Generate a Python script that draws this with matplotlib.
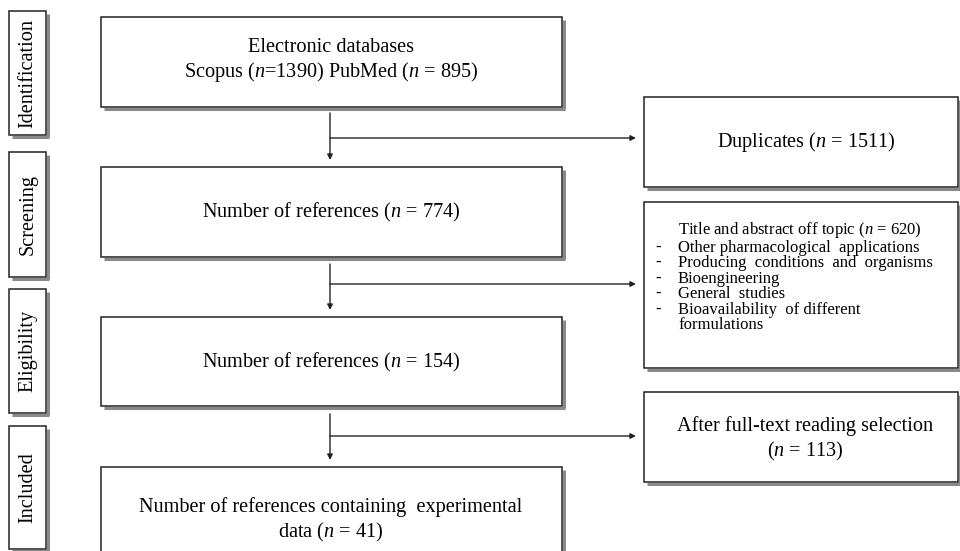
import matplotlib
matplotlib.use("Agg")
import matplotlib.pyplot as plt
from matplotlib.patches import Rectangle

plt.rcParams['font.family'] = ['Liberation Serif', 'DejaVu Serif']
plt.rcParams['mathtext.fontset'] = 'custom'
plt.rcParams['mathtext.rm'] = 'Liberation Serif'
plt.rcParams['mathtext.it'] = 'Liberation Serif:italic'

# ---- data ----
stage_labels = ["Identification", "Screening", "Eligibility", "Included"]
scopus_n = 1390
pubmed_n = 895
duplicates_n = 1511
screened_n = 774
offtopic_n = 620
offtopic_reasons = ["Other pharmacological  applications",
                    "Producing  conditions  and  organisms",
                    "Bioengineering",
                    "General  studies",
                    "Bioavailability  of different"]
offtopic_tail = "formulations"
eligible_n = 154
fulltext_excluded_n = 113
included_n = 41

W, H = 960, 551
fig = plt.figure(figsize=(W / 100, H / 100), dpi=100)
ax = fig.add_axes([0, 0, 1, 1])
ax.set_xlim(0, W)
ax.set_ylim(H, 0)
ax.axis('off')


def box(x0, y0, x1, y1):
    # shadow (right + bottom)
    ax.plot([x1 + 1.5, x1 + 1.5], [y0 + 3, y1 + 1.5], color='#8a8a8a', lw=2.2,
            solid_capstyle='butt', zorder=1)
    ax.plot([x0 + 3, x1 + 2.5], [y1 + 1.5, y1 + 1.5], color='#8a8a8a', lw=2.2,
            solid_capstyle='butt', zorder=1)
    ax.add_patch(Rectangle((x0, y0), x1 - x0, y1 - y0, facecolor='white',
                           edgecolor='#222222', lw=1.1, zorder=2))


def arrow(xs, ys, xe, ye):
    ax.annotate('', xy=(xe, ye), xytext=(xs, ys),
                arrowprops=dict(arrowstyle='-|>', color='#222222', lw=1.0,
                                mutation_scale=8, shrinkA=0, shrinkB=0), zorder=3)


# stage label boxes
stage_y = [(11, 135), (152, 277), (289, 413), (426, 549)]
for lab, (y0, y1) in zip(stage_labels, stage_y):
    box(9, y0, 46, y1)
    ax.text(28, (y0 + y1) / 2, lab, rotation=90, ha='center', va='center',
            fontsize=14.6, zorder=4)

# main column boxes
mx0, mx1 = 101, 562
main_y = [(17, 107), (167, 257), (317, 406), (467, 557)]
for (y0, y1) in main_y:
    box(mx0, y0, mx1, y1)

fs = 14.6
ax.text(331, 48, "Electronic databases", ha='center', va='center', fontsize=fs, zorder=4)
ax.text(331, 72, f"Scopus ($n$={scopus_n}) PubMed ($n$ = {pubmed_n})",
        ha='center', va='center', fontsize=fs, zorder=4)
ax.text(331, 212, f"Number of references ($n$ = {screened_n})",
        ha='center', va='center', fontsize=fs, zorder=4)
ax.text(331, 362, f"Number of references ($n$ = {eligible_n})",
        ha='center', va='center', fontsize=fs, zorder=4)
ax.text(331, 507, "Number of references containing  experimental",
        ha='center', va='center', fontsize=fs, zorder=4)
ax.text(331, 532, f"data ($n$ = {included_n})",
        ha='center', va='center', fontsize=fs, zorder=4)

# right column boxes
rx0, rx1 = 644, 958
right_y = [(97, 187), (202, 368), (392, 482)]
for (y0, y1) in right_y:
    box(rx0, y0, rx1, y1)

ax.text(806, 142, f"Duplicates ($n$ = {duplicates_n})", ha='center', va='center',
        fontsize=fs, zorder=4)
ax.text(805, 426, "After full-text reading selection", ha='center', va='center',
        fontsize=fs, zorder=4)
ax.text(805, 451, f"($n$ = {fulltext_excluded_n})", ha='center', va='center',
        fontsize=fs, zorder=4)

# off-topic list as one block (dashes as a separate column)
lfs = 12.0
ls = 0.96
lines = [f"Title and abstract off topic ($n$ = {offtopic_n})"] + offtopic_reasons + [offtopic_tail]
ax.text(678, 220, "\n".join(lines), ha='left', va='top', fontsize=lfs,
        linespacing=ls, zorder=4)
dash_lines = [" "] + ["-"] * len(offtopic_reasons) + [" "]
ax.text(655, 224, "\n".join(dash_lines), ha='left', va='top', fontsize=lfs,
        fontweight='bold', linespacing=ls, zorder=4)

# arrows
ax_x = 330
for (v0, v1, hy) in [(113, 160, 138), (264, 310, 284), (414, 460, 436)]:
    arrow(ax_x, v0, ax_x, v1)
    arrow(ax_x, hy, 636, hy)

fig.savefig("out.png", dpi=100)
